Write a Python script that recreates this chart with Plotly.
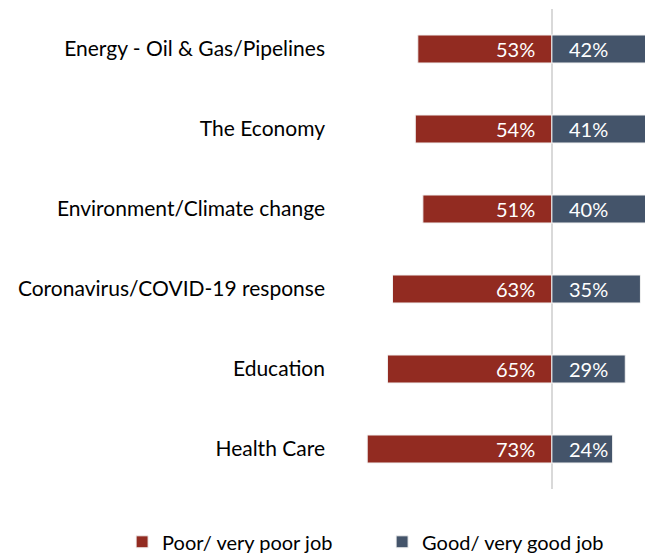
import plotly.graph_objects as go

# Survey issues, listed top to bottom
issues = [
    "Energy - Oil & Gas/Pipelines",
    "The Economy",
    "Environment/Climate change",
    "Coronavirus/COVID-19 response",
    "Education",
    "Health Care",
]
poor_pct = [53, 54, 51, 63, 65, 73]
good_pct = [42, 41, 40, 35, 29, 24]

RED = "#922B21"
BLUE = "#44546A"
FONT = "Lato"

fig = go.Figure()
fig.add_trace(go.Bar(
    y=issues, x=[-v for v in poor_pct], orientation="h",
    name="Poor/ very poor job", marker=dict(color=RED, line=dict(color="#f2f2f2", width=1)),
    hoverinfo="skip",
))
fig.add_trace(go.Bar(
    y=issues, x=good_pct, orientation="h",
    name="Good/ very good job", marker=dict(color=BLUE, line=dict(color="#f2f2f2", width=1)),
    hoverinfo="skip",
))

# Percentage labels inside the bars, set in from the centre line
for cat, p, g in zip(issues, poor_pct, good_pct):
    fig.add_annotation(x=0, y=cat, text=f"{p}%", showarrow=False,
                       xanchor="right", xshift=-15,
                       font=dict(family=FONT, size=20, color="white"))
    fig.add_annotation(x=0, y=cat, text=f"{g}%", showarrow=False,
                       xanchor="left", xshift=15,
                       font=dict(family=FONT, size=20, color="white"))

fig.update_layout(
    width=645, height=554,
    margin=dict(l=330, r=0, t=9, b=65, autoexpand=False),
    paper_bgcolor="white", plot_bgcolor="white",
    barmode="relative", bargap=0.65,
    font=dict(family=FONT, size=21, color="#000000"),
    showlegend=True,
    legend=dict(orientation="h", x=-0.66, xanchor="left", y=-0.11, yanchor="middle",
                font=dict(family=FONT, size=20, color="#000000"),
                traceorder="normal", itemwidth=30, entrywidth=215),
    xaxis=dict(range=[-87.7, 36.8], showgrid=False, showticklabels=False,
               zeroline=True, zerolinecolor="#D9D9D9", zerolinewidth=2, fixedrange=True),
    yaxis=dict(autorange="reversed", showgrid=False, ticks="", ticklabelstandoff=4,
               tickfont=dict(family=FONT, size=21, color="#000000")),
)

fig.write_html("out.html")
